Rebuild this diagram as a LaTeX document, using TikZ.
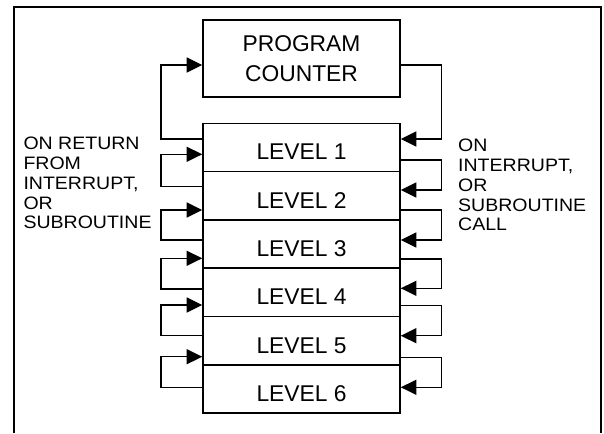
\documentclass[tikz,border=0pt]{standalone}
\usepackage{fontspec}
\setmainfont{Liberation Sans}
\newfontfamily\labelfont{Liberation Sans}[FakeStretch=1.085]
\usetikzlibrary{arrows.meta}

\begin{document}
\begin{tikzpicture}[x=1pt, y=-1pt,
	box/.style={draw, line width=1.6pt, minimum width=197pt, inner sep=0pt,
		font=\fontsize{22.8}{30}\selectfont},
	level/.style={box, minimum height=48.33pt, text height=25pt, text depth=0pt},
	conn/.style={line width=1.3pt, -{Triangle[length=15.5pt,width=15pt]}},
	note/.style={anchor=north west, inner sep=0pt, align=left,
		font=\labelfont\fontsize{18}{19.8}\selectfont}]
	%%%%% START %%%%%
	\useasboundingbox (0,0) rectangle (604,433);
	
	\draw[line width=1.8pt] (14,433) -- (14,7.3) -- (601,7.3) -- (601,433);
	
	\node[box, minimum height=76.7pt, align=center] (pc) at (301.5,58.4) {PROGRAM\\COUNTER};
	\foreach \i in {1,...,6}
		\node[level] (lv\i) at (301.5,{123.3+48.33*(\i-0.5)}) {LEVEL \i};
	
	\node[note] (ret) at (23.3,137) {ON RETURN\\FROM\\INTERRUPT,\\OR\\SUBROUTINE};
	\node[note] (call) at (458,139) {ON\\INTERRUPT,\\OR\\SUBROUTINE\\CALL};
	
	% stack -> program counter, and back
	\draw[conn] (lv1.west |- 0,139) -- ++(-41.3,0) |- (pc.west |- 0,65);
	\draw[conn] (pc.east |- 0,65) -- ++(41,0) |- (lv1.east |- 0,139);
	
	% return: level i+1 -> level i
	\foreach \i/\j/\ya/\yb in {1/2/186.7/154.3, 2/3/240/210, 3/4/289/258.3, 4/5/335.7/305, 5/6/387.7/356.7}
		\draw[conn] (lv\j.west |- 0,\ya) -- ++(-41.3,0) |- (lv\i.west |- 0,\yb);
	
	% call: level i -> level i+1
	\foreach \i/\j/\ya/\yb in {1/2/160/190, 2/3/210/240, 3/4/259/288.3, 4/5/305.7/335.7, 5/6/357.7/387.3}
		\draw[conn] (lv\i.east |- 0,\ya) -- ++(41,0) |- (lv\j.east |- 0,\yb);
	%%%%% END %%%%%
\end{tikzpicture}
\end{document}
